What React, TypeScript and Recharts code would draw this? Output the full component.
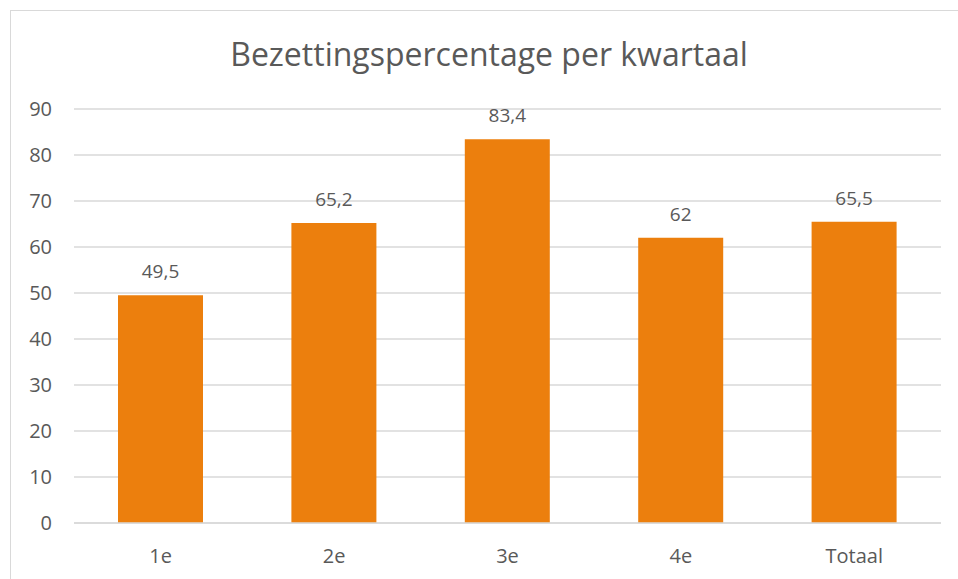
import * as React from "react";
import { Bar, BarChart, CartesianGrid, LabelList, XAxis, YAxis } from "recharts";

// Bezettingspercentage per kwartaal — single orange series, Excel-style frame.
const quarters = ["1e", "2e", "3e", "4e", "Totaal"];
const occupancy = [49.5, 65.2, 83.4, 62, 65.5];
const yTicks = [0, 10, 20, 30, 40, 50, 60, 70, 80, 90];

const data = quarters.map((q, i) => ({ label: q, value: occupancy[i] }));

const ink = "#595959";
const grid = "#d9d9d9";
const orange = "#ec7f0d";
const font = "'Open Sans', sans-serif";

const nl = (n: number) => String(n).replace(".", ",");

export default function App() {
  return (
    <div style={{ position: "fixed", left: 0, top: 0, width: 958, height: 579, overflow: "hidden", background: "#fff", fontFamily: font }}>
      <div
        style={{
          position: "absolute",
          left: 10,
          top: 10,
          width: 960,
          height: 600,
          border: "1.5px solid #d9d9d9",
          boxSizing: "border-box",
        }}
      />
      <div
        style={{
          position: "absolute",
          left: 0,
          width: 978,
          top: 34,
          textAlign: "center",
          fontSize: 32,
          color: ink,
          lineHeight: "40px",
        }}
      >
        Bezettingspercentage per kwartaal
      </div>
      <div style={{ position: "absolute", left: 0, top: 0 }}>
        <BarChart width={958} height={579} data={data} margin={{ top: 109, right: 17, left: 0, bottom: 0 }}>
          <CartesianGrid stroke={grid} strokeWidth={1.5} vertical={false} />
          <XAxis
            dataKey="label"
            height={56}
            axisLine={{ stroke: grid, strokeWidth: 1.5 }}
            tickLine={false}
            tickSize={0}
            tickMargin={26}
            tick={{ fill: ink, fontSize: 20, fontFamily: font }}
          />
          <YAxis
            width={74}
            domain={[0, 90]}
            ticks={yTicks}
            axisLine={false}
            tickLine={false}
            tickSize={0}
            tickMargin={22}
            tick={{ fill: ink, fontSize: 20, fontFamily: font }}
          />
          <Bar dataKey="value" fill={orange} barSize={85} isAnimationActive={false}>
            <LabelList
              dataKey="value"
              position="top"
              offset={17}
              formatter={(v: unknown) => nl(Number(v))}
              style={{ fill: ink, fontSize: 19, fontFamily: font }}
            />
          </Bar>
        </BarChart>
      </div>
    </div>
  );
}
